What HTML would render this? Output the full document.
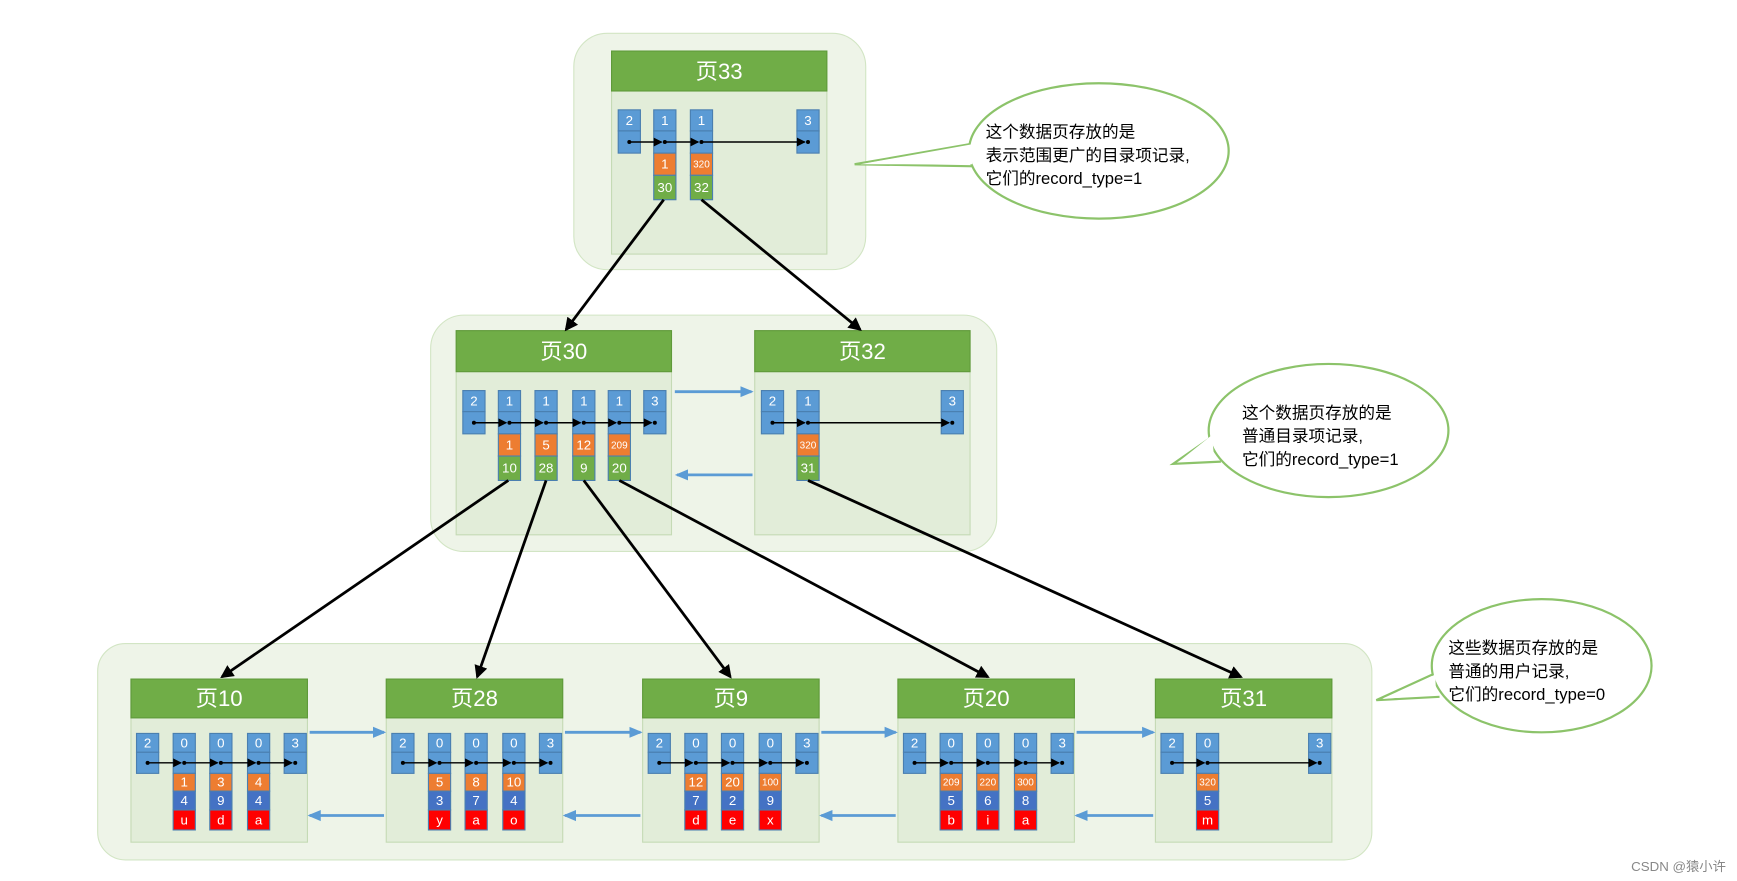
<!DOCTYPE html>
<html><head><meta charset="utf-8"><style>
html,body{margin:0;padding:0;background:#fff;width:1737px;height:881px;overflow:hidden}
svg{display:block}
text{font-family:"Liberation Sans","Noto Sans CJK SC",sans-serif}
</style></head><body>
<svg id="s" width="1737" height="881" viewBox="0 0 1565 794" preserveAspectRatio="none" xmlns="http://www.w3.org/2000/svg">
<defs>
<marker id="ab" markerWidth="8" markerHeight="8" refX="7" refY="4" orient="auto" markerUnits="userSpaceOnUse"><path d="M0,0 L8,4 L0,8 z" fill="#000"/></marker>
<marker id="ak" markerWidth="12" markerHeight="12" refX="10" refY="6" orient="auto" markerUnits="userSpaceOnUse"><path d="M0,0 L12,6 L0,12 z" fill="#000"/></marker>
<marker id="au" markerWidth="12" markerHeight="12" refX="10" refY="6" orient="auto" markerUnits="userSpaceOnUse"><path d="M0,1 L12,6 L0,11 z" fill="#5b9bd5"/></marker>
</defs>
<g id="g"></g>
<g font-size="15" fill="#000">
<path d="M885,128 L770,148 L885,150" fill="#fff" stroke="#8cc36a" stroke-width="2"/>
<ellipse cx="990" cy="136" rx="117" ry="61" fill="#fff" stroke="#8cc36a" stroke-width="2"/>
<path d="M876,130 L775,148 L876,148 Z" fill="#fff"/>
<text x="888" y="124">这个数据页存放的是</text>
<text x="888" y="145">表示范围更广的目录项记录,</text>
<text x="888" y="166">它们的record_type=1</text>
<path d="M1100,388 L1057,418 L1100,416" fill="#fff" stroke="#8cc36a" stroke-width="2"/>
<ellipse cx="1197" cy="388" rx="108" ry="60" fill="#fff" stroke="#8cc36a" stroke-width="2"/>
<path d="M1092,392 L1062,416 L1094,414 Z" fill="#fff"/>
<text x="1119" y="377">这个数据页存放的是</text>
<text x="1119" y="398">普通目录项记录,</text>
<text x="1119" y="419">它们的record_type=1</text>
<path d="M1297,605 L1240,631 L1297,628" fill="#fff" stroke="#8cc36a" stroke-width="2"/>
<ellipse cx="1389" cy="600" rx="99" ry="60" fill="#fff" stroke="#8cc36a" stroke-width="2"/>
<path d="M1293,608 L1246,630 L1294,626 Z" fill="#fff"/>
<text x="1305" y="589">这些数据页存放的是</text>
<text x="1305" y="610">普通的用户记录,</text>
<text x="1305" y="631">它们的record_type=0</text>
</g>
<text x="1555" y="785" font-size="12" fill="#888" text-anchor="end">CSDN @猿小许</text>
</svg>
<script>
var h='',ar='';
function R(x,y,w,hh,f,st,rx){h+='<rect x="'+x+'" y="'+y+'" width="'+w+'" height="'+hh+'" fill="'+f+'" stroke="'+(st||'none')+'" rx="'+(rx||0)+'"/>';}
function T(x,y,t,fs,f){h+='<text x="'+x+'" y="'+y+'" font-size="'+fs+'" fill="'+f+'" text-anchor="middle">'+t+'</text>';}
function L(x1,y1,x2,y2,c,w,m){ar+='<line x1="'+x1+'" y1="'+y1+'" x2="'+x2+'" y2="'+y2+'" stroke="'+c+'" stroke-width="'+w+'" marker-end="url(#'+m+')"/>';}
var COL=['#5b9bd5','#5b9bd5','#ed7d31','#70ad47'];
var COL3=['#5b9bd5','#5b9bd5','#ed7d31','#4472c4','#ff0000'];
function page(x,y,w,title,hy,bot){
 R(x,y,w,bot-y,'#e2edd9','#c5dab5');
 R(x,y,w,hy,'#70ad47','#5f9a3a');
 T(x+w/2,y+hy/2+7,title,20,'#fff');
}
function recs(xs,ys,cols,data){
 var dy=ys[1]+(ys[2]-ys[1])/2;
 for(var i=0;i<xs.length;i++){
  var d=data[i];
  for(var j=0;j<ys.length-1;j++){
   if(j>=2 && (d.length<=2)) break;
   var v=j==0?d[0]:(j==1?'':d[j-1]);
   R(xs[i],ys[j],20,ys[j+1]-ys[j],cols[j],'#4a7fb0');
   if(v!=='') {var fs=String(v).length>2?9:12; T(xs[i]+10,(ys[j]+ys[j+1])/2+(fs==9?3:4),v,fs,'#fff');}
  }
  ar+='<circle cx="'+(xs[i]+10)+'" cy="'+dy+'" r="1.8" fill="#000"/>';
  if(i<xs.length-1) L(xs[i]+10,dy,xs[i+1]+7,dy,'#000',1.3,'ab');
 }
}
R(517,30,263,213,'#eef4e8','#d2e5c4',30);
R(388,284,510,213,'#eef4e8','#d2e5c4',30);
R(88,580,1148,195,'#eef4e8','#d2e5c4',25);
page(551,46,194,'页33',36,229);
recs([557,589,622,718],[99,118,138,158,180],COL,[['2'],['1','1','30'],['1','320','32'],['3']]);
page(411,298,194,'页30',37,482);
recs([417,449,482,516,548,580],[352,371,391,411,433],COL,[['2'],['1','1','10'],['1','5','28'],['1','12','9'],['1','209','20'],['3']]);
page(680,298,194,'页32',37,482);
recs([686,718,848],[352,371,391,411,433],COL,[['2'],['1','320','31'],['3']]);
L(608,353,677,353,'#5b9bd5',2.5,'au');
L(678,428,610,428,'#5b9bd5',2.5,'au');
var P=[[118,'页10',[['1','4','u'],['3','9','d'],['4','4','a']]],
 [348,'页28',[['5','3','y'],['8','7','a'],['10','4','o']]],
 [579,'页9',[['12','7','d'],['20','2','e'],['100','9','x']]],
 [809,'页20',[['209','5','b'],['220','6','i'],['300','8','a']]],
 [1041,'页31',[['320','5','m']]]];
var ys3=[661,678,697,713,730,748];
P.forEach(function(p,k){
 var x=p[0];page(x,612,159,p[1],35,759);
 var xs=[x+5],data=[['2']];
 if(p[2].length==3){xs.push(x+38,x+71,x+105,x+138);}
 else{xs.push(x+37,x+138);}
 p[2].forEach(function(d){data.push(['0'].concat(d));});
 data.push(['3']);
 recs(xs,ys3,COL3,data);
 if(k<4){L(x+161,660,P[k+1][0]-2,660,'#5b9bd5',2.5,'au');L(P[k+1][0]-2,735,x+161,735,'#5b9bd5',2.5,'au');}
});
L(598,180,510,297,'#000',2.5,'ak');
L(632,180,775,297,'#000',2.5,'ak');
L(458,433,200,610,'#000',2.5,'ak');
L(492,433,430,610,'#000',2.5,'ak');
L(526,433,658,610,'#000',2.5,'ak');
L(558,433,890,610,'#000',2.5,'ak');
L(728,433,1118,610,'#000',2.5,'ak');
document.getElementById('g').innerHTML=h+ar;
</script>
</body></html>
